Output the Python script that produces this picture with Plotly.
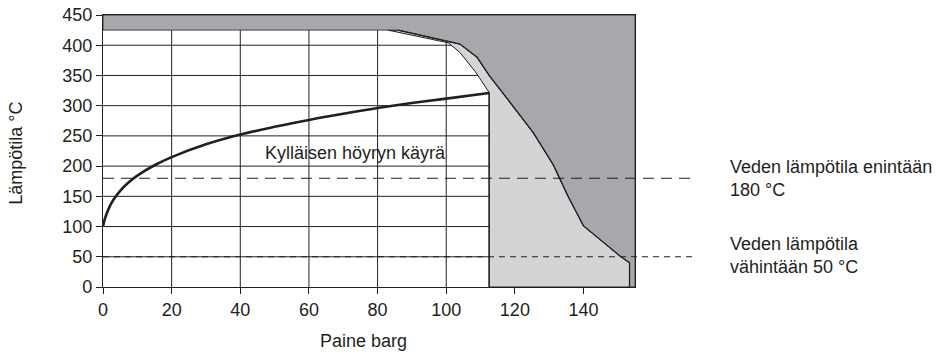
import plotly.graph_objects as go

# Saturated steam curve (pressure barg, temperature °C)
sat_p = [0, 0.5, 1, 2, 3, 5, 7.5, 10, 15, 20, 30, 40, 50, 60, 70, 80, 90, 100, 112.5]
sat_t = [100, 111.9, 120.4, 133.7, 143.8, 159.0, 173.2, 184.3, 201.4, 214.9, 236.0, 252.2,
         265.0, 276.4, 286.6, 296.0, 304.3, 311.7, 321.0]

# Outer boundary (dark region edge)
outer_p = [86, 104, 109, 112.5, 118, 125.4, 131.2, 135.6, 140, 150.7, 153.4]
outer_t = [425, 402, 380, 350, 310, 255, 202, 149, 101, 51, 40]

# Inner boundary (white region edge)
inner_p = [83, 100.6, 104, 108.5, 112.5]
inner_t = [425, 404, 388, 356, 322]

x_max = 155
y_max = 450
band_t = 425
p_limit = 112.5
p_end = 153.4

x_ticks = [0, 20, 40, 60, 80, 100, 120, 140]
y_ticks = [0, 50, 100, 150, 200, 250, 300, 350, 400, 450]
grid_x = [20, 40, 60, 80, 100]
grid_y = [50, 100, 150, 200, 250, 300, 350, 400]

dark = "#a7a8ab"
light = "#d3d4d6"
ink = "#231f20"

fig = go.Figure()

# grid lines in the white area (as traces, later covered by grey fills)
for gx in grid_x:
    fig.add_trace(go.Scatter(x=[gx, gx], y=[0, band_t], mode="lines",
                             line=dict(color=ink, width=1), hoverinfo="skip", showlegend=False))
for gy in grid_y:
    fig.add_trace(go.Scatter(x=[0, x_max], y=[gy, gy], mode="lines",
                             line=dict(color=ink, width=1), hoverinfo="skip", showlegend=False))

# light grey region
lx = inner_p + [p_limit, p_end, p_end] + outer_p[::-1][1:] + [inner_p[0]]
ly = inner_t + [0, 0, outer_t[-1]] + outer_t[::-1][1:] + [inner_t[0]]
fig.add_trace(go.Scatter(x=lx, y=ly, mode="lines", fill="toself", fillcolor=light,
                         line=dict(color=ink, width=1), hoverinfo="skip", showlegend=False))

# dark grey region
dx = [0, outer_p[0]] + outer_p + [p_end, x_max, x_max, 0, 0]
dy = [band_t, band_t] + outer_t + [0, 0, y_max, y_max, band_t]
fig.add_trace(go.Scatter(x=dx, y=dy, mode="lines", fill="toself", fillcolor=dark,
                         line=dict(color=ink, width=0.8), hoverinfo="skip", showlegend=False))

# outer edge line
fig.add_trace(go.Scatter(x=outer_p + [p_end], y=outer_t + [0], mode="lines",
                         line=dict(color=ink, width=1.3), hoverinfo="skip", showlegend=False))
# vertical limit line
fig.add_trace(go.Scatter(x=[p_limit, p_limit], y=[0, inner_t[-1]], mode="lines",
                         line=dict(color=ink, width=1.3), hoverinfo="skip", showlegend=False))

# saturated steam curve
fig.add_trace(go.Scatter(x=sat_p, y=sat_t, mode="lines", line=dict(color=ink, width=2.6, shape="spline"),
                         hoverinfo="skip", showlegend=False))

shapes = [
    dict(type="rect", xref="x", yref="y", x0=40.6, x1=112, y0=201, y1=248,
         fillcolor="white", line=dict(width=0), layer="between"),
    dict(type="line", xref="paper", yref="y", x0=0, x1=1.1165, y0=180, y1=180,
         line=dict(color=ink, width=1.1, dash="11px,7px")),
    dict(type="line", xref="paper", yref="y", x0=0, x1=1.1165, y0=50, y1=50,
         line=dict(color=ink, width=1.1, dash="6px,5px")),
]

font_family = "Liberation Sans, Arial, sans-serif"
fs = 18
annotations = [
    dict(x=73.5, y=221, xref="x", yref="y", text="Kylläisen höyryn käyrä", showarrow=False,
         font=dict(size=fs, color=ink, family=font_family)),
    dict(x=1.175, y=180, xref="paper", yref="y", text="Veden lämpötila enintään<br>180 °C",
         showarrow=False, xanchor="left", yanchor="middle", align="left",
         font=dict(size=fs, color=ink, family=font_family)),
    dict(x=1.175, y=52, xref="paper", yref="y", text="Veden lämpötila<br>vähintään 50 °C",
         showarrow=False, xanchor="left", yanchor="middle", align="left",
         font=dict(size=fs, color=ink, family=font_family)),
    dict(x=0.49, y=-0.199, xref="paper", yref="paper", text="Paine barg", showarrow=False,
         xanchor="center", yanchor="middle", font=dict(size=fs, color=ink, family=font_family)),
    dict(x=-0.1635, y=0.49, xref="paper", yref="paper", text="Lämpötila °C", showarrow=False,
         textangle=-90, xanchor="center", yanchor="middle",
         font=dict(size=fs, color=ink, family=font_family)),
]

fig.update_layout(
    width=949, height=354,
    margin=dict(l=103, r=314, t=15, b=67),
    paper_bgcolor="white", plot_bgcolor="white",
    shapes=shapes, annotations=annotations,
    font=dict(family=font_family, color=ink, size=fs),
    xaxis=dict(range=[0, x_max], tickvals=x_ticks, showgrid=False, zeroline=False,
               showline=True, linecolor=ink, linewidth=1.3, mirror=True, automargin=False,
               ticks="outside", ticklen=6, tickcolor=ink, tickfont=dict(size=fs)),
    yaxis=dict(range=[0, y_max], tickvals=y_ticks, showgrid=False, zeroline=False,
               showline=True, linecolor=ink, linewidth=1.3, mirror=True, automargin=False,
               ticks="outside", ticklen=6, tickcolor=ink, tickfont=dict(size=fs)),
)

fig.write_html("out.html")
